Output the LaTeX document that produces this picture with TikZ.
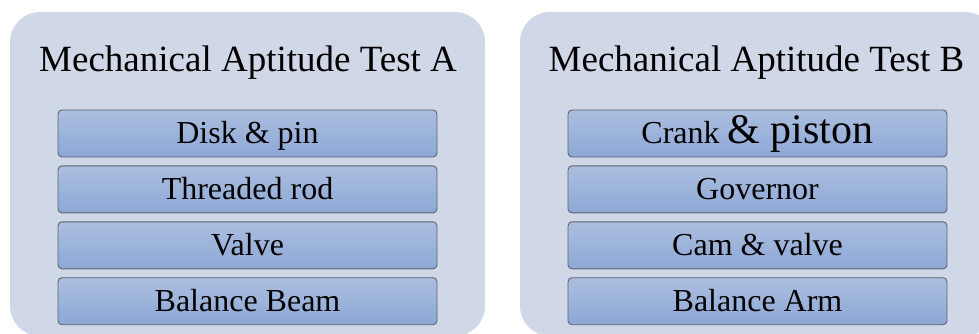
\documentclass[tikz,border=0pt]{standalone}
\usepackage{fontspec}
\setmainfont{Liberation Serif}
\usetikzlibrary{positioning}

\definecolor{panelfill}{HTML}{D0D8E8}
\definecolor{itemtop}{HTML}{ABBEDF}
\definecolor{itembottom}{HTML}{8DA8D6}
\definecolor{itemline}{HTML}{5C6373}

\tikzset{
  panel/.style={fill=panelfill,rounded corners=30pt},
  paneltitle/.style={anchor=base,inner sep=0pt,font=\fontsize{37}{42}\selectfont},
  itembox/.style={draw=itemline,line width=0.9pt,rounded corners=4pt,
    top color=itemtop,bottom color=itembottom,
    minimum width=379pt,minimum height=47pt,inner sep=0pt,
    text height=23pt,text depth=3pt,font=\fontsize{32}{37}\selectfont}
}

\begin{document}
\begin{tikzpicture}[x=1pt,y=-1pt]
		\useasboundingbox (0,0) rectangle (979,334);

		% panel A
		\fill[panel] (10,12) rectangle (485,336);
		\node[paneltitle] (titleA) at (248,72) {Mechanical Aptitude Test A};
		\node[itembox] (diskpin) at (247.5,133.5) {Disk \& pin};
		\node[itembox,below=8pt of diskpin] (rod) {Threaded rod};
		\node[itembox,below=8pt of rod] (valve) {Valve};
		\node[itembox,below=8pt of valve] (beam) {Balance Beam};

		% panel B
		\fill[panel] (520,12) rectangle (995,336);
		\node[paneltitle] (titleB) at (756.5,72) {Mechanical Aptitude Test B};
		\node[itembox] (crank) at (757.5,133.5) {Crank {\fontsize{42}{46}\selectfont\&~piston}};
		\node[itembox,below=8pt of crank] (governor) {Governor};
		\node[itembox,below=8pt of governor] (cam) {Cam \& valve};
		\node[itembox,below=8pt of cam] (arm) {Balance Arm};
\end{tikzpicture}
\end{document}
